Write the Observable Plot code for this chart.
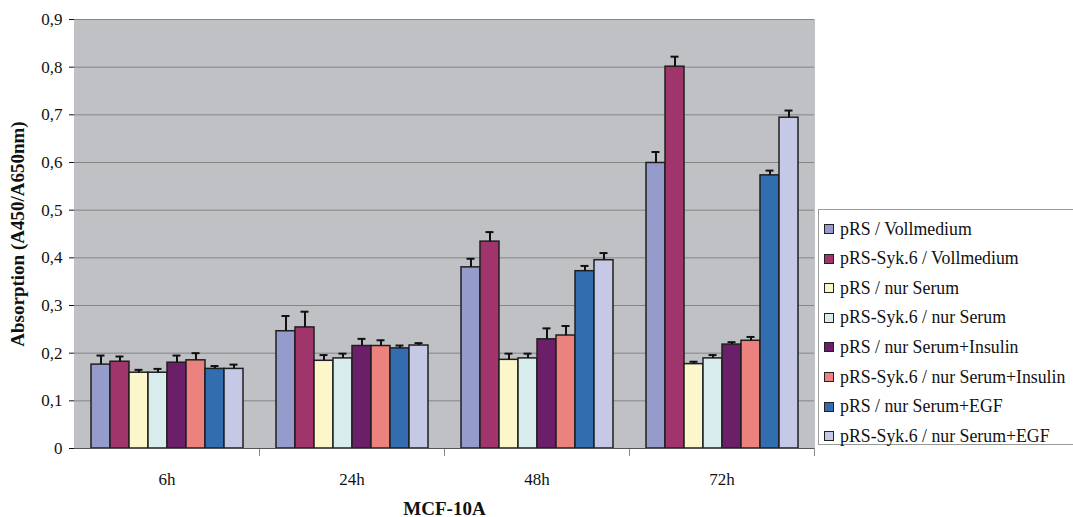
<!DOCTYPE html>
<html>
<head>
<meta charset="utf-8">
<script src="https://cdn.jsdelivr.net/npm/d3@7"></script>
<script src="https://cdn.jsdelivr.net/npm/@observablehq/plot@0.6"></script>
<style>
  html, body { margin: 0; padding: 0; background: #fff; overflow: hidden; }
  #wrap { position: relative; width: 1073px; height: 517px; }
  #legend {
    position: absolute; left: 818px; top: 209px; width: 255px; height: 236px;
    border: 1px solid #9a9a9a; border-right: none; background: #fff; box-sizing: border-box;
    font-family: "Liberation Serif", serif; font-size: 17.8px; color: #111;
  }
  .item { position: absolute; left: 0; height: 22px; display: flex; align-items: center; white-space: nowrap; }
  .sw { width: 8px; height: 8px; border: 1.5px solid #222; margin-left: 5px; margin-right: 6px; }
</style>
</head>
<body>
<div id="wrap"><div id="legend"></div></div>
<script>
const timepoints = ["6h", "24h", "48h", "72h"];
const series = [
  "pRS / Vollmedium",
  "pRS-Syk.6 / Vollmedium",
  "pRS / nur Serum",
  "pRS-Syk.6 / nur Serum",
  "pRS / nur Serum+Insulin",
  "pRS-Syk.6 / nur Serum+Insulin",
  "pRS / nur Serum+EGF",
  "pRS-Syk.6 / nur Serum+EGF"
];
const colors = ["#959bcb", "#a0356b", "#fbf7cb", "#d8ecee", "#6a1f68", "#ec827d", "#326db0", "#c5c9e5"];

// mean absorption per timepoint (series order as above)
const mean6h  = [0.176, 0.182, 0.159, 0.159, 0.180, 0.185, 0.167, 0.167];
const mean24h = [0.246, 0.254, 0.184, 0.189, 0.215, 0.215, 0.210, 0.216];
const mean48h = [0.380, 0.434, 0.186, 0.189, 0.229, 0.237, 0.372, 0.395];
const mean72h = [0.599, 0.801, 0.177, 0.189, 0.218, 0.226, 0.573, 0.694];
// upper error (standard deviation)
const err6h  = [0.019, 0.011, 0.006, 0.008, 0.015, 0.015, 0.006, 0.009];
const err24h = [0.032, 0.033, 0.012, 0.010, 0.015, 0.012, 0.006, 0.005];
const err48h = [0.018, 0.020, 0.013, 0.010, 0.023, 0.020, 0.011, 0.015];
const err72h = [0.023, 0.021, 0.005, 0.007, 0.005, 0.008, 0.010, 0.015];

const yTicks = [0, 0.1, 0.2, 0.3, 0.4, 0.5, 0.6, 0.7, 0.8, 0.9];

const means = [mean6h, mean24h, mean48h, mean72h];
const errs = [err6h, err24h, err48h, err72h];
const data = [];
timepoints.forEach((t, i) => series.forEach((s, j) => {
  data.push({time: t, series: s, mean: means[i][j], top: means[i][j] + errs[i][j]});
}));

const fmt = d => d === 0 ? "0" : d3.format(".1f")(d).replace(".", ",");

const chart = Plot.plot({
  width: 1073, height: 517,
  marginLeft: 72, marginRight: 258, marginTop: 19, marginBottom: 69,
  style: {fontFamily: "'Liberation Serif', serif", fontSize: "17px", background: "transparent", color: "#111", overflow: "visible"},
  fx: {domain: timepoints, padding: 0, axis: "bottom", label: "MCF-10A", labelAnchor: "center",
       tickSize: 0, tickPadding: 24, labelOffset: 66},
  x: {domain: series, paddingInner: 0, paddingOuter: 0.8, axis: null},
  y: {domain: [0, 0.9], ticks: yTicks, tickFormat: fmt, tickSize: 5, tickPadding: 7,
      label: "Absorption (A450/A650nm)", labelAnchor: "center", labelOffset: 64, labelArrow: "none", line: true},
  color: {domain: series, range: colors},
  marks: [
    Plot.frame({fill: "#c0c1c5", stroke: "#c0c1c5", strokeWidth: 1}),
    Plot.ruleY(yTicks.filter(d => d > 0), {stroke: "#858585", strokeWidth: 1}),
    Plot.barY(data, {fx: "time", x: "series", y: "mean", fill: "series", stroke: "#1f1f1f", strokeWidth: 1.5}),
    Plot.ruleX(data, {fx: "time", x: "series", y1: "mean", y2: "top", stroke: "#111", strokeWidth: 2}),
    Plot.tickY(data, {fx: "time", x: "series", y: "top", stroke: "#111", strokeWidth: 2, insetLeft: 5.5, insetRight: 5.5}),
    Plot.frame({anchor: "right", stroke: "#888", insetTop: 429, insetBottom: -7}),
    Plot.ruleY([0], {stroke: "#555", strokeWidth: 1})
  ]
});
document.getElementById("wrap").prepend(chart);

chart.querySelectorAll("text").forEach(t => {
  const s = t.textContent;
  if (s === "MCF-10A" || s.startsWith("Absorption")) {
    t.setAttribute("font-weight", "bold");
    t.setAttribute("font-size", "19px");
  }
});

const legend = document.getElementById("legend");
series.forEach((s, i) => {
  const it = document.createElement("div");
  it.className = "item";
  it.style.top = (8 + i * 29.6) + "px";
  const sw = document.createElement("div");
  sw.className = "sw";
  sw.style.background = colors[i];
  const tx = document.createElement("span");
  tx.textContent = s;
  it.append(sw, tx);
  legend.append(it);
});
</script>
</body>
</html>
